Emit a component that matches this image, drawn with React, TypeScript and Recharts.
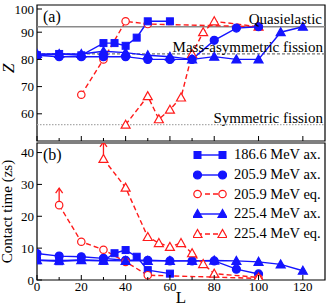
import { LineChart, Line, XAxis, YAxis, ReferenceLine, ReferenceArea, Label, Legend } from 'recharts'

const SERIF = '"Liberation Serif", "DejaVu Serif", serif'
const BLUE = '#1414ff'
const RED = '#ff1a1a'

// L values (angular momentum) and read-off values
const L_186 = [0, 10, 20, 30, 35, 40, 45, 50, 60]
const Z_186 = [81.5, 82, 81.5, 86, 86, 85, 88, 94, 94]
const T_186 = [6.2, 5.9, 6.3, 6.0, 8.4, 9.4, 7.3, 3.1, 2.0]

const L_205ax = [0, 10, 20, 30, 40, 50, 60, 70, 80, 90, 100]
const Z_205ax = [81.5, 81, 81, 81, 81, 80, 80, 80, 87, 91.5, 92]
const T_205ax = [8.3, 7.5, 7.3, 6.8, 6.2, 6.2, 6.0, 6.0, 6.0, 3.4, 1.9]

const L_205eq_Z = [20, 30, 40, 50, 100]
const Z_205eq = [67, 80, 94, 93, 92]
const L_205eq_T = [10, 20, 30, 40, 50, 100]
const T_205eq = [23.5, 12, 9.5, 5.7, 1.5, 0.5]

const L_225ax = [0, 10, 20, 30, 40, 50, 60, 70, 80, 90, 100, 110, 120]
const Z_225ax = [82, 82, 82, 83, 82.5, 81.5, 81, 80, 81, 80, 80, 90, 92]
const T_225ax = [6.2, 6.1, 6.2, 6.1, 6.0, 6.0, 6.0, 6.0, 6.1, 6.0, 5.7, 4.9, 2.9]

const L_225eq_Z = [40, 50, 55, 60, 65, 70, 75, 80, 100]
const Z_225eq = [56, 66.5, 58, 61.5, 66, 82, 90, 94, 92]
const L_225eq_T = [30, 40, 50, 55, 60, 65, 70, 75, 80, 100]
const T_225eq = [38, 29, 13.5, 11.6, 10.4, 11.6, 8.4, 5, 2, 0.8]

// lower bounds only (drawn with an up arrow)
const ARROWS_205eq = [10]
const ARROWS_225eq = [30]

const X_TICKS = [0, 10, 20, 30, 40, 50, 60, 70, 80, 90, 100, 110, 120]
const X_LABELS = [0, 20, 40, 60, 80, 100, 120]
const Z_TICKS = [55, 60, 65, 70, 75, 80, 85, 90, 95, 100]
const Z_LABELS = [60, 70, 80, 90, 100]
const T_TICKS = [0, 5, 10, 15, 20, 25, 30, 35, 40]
const T_LABELS = [0, 10, 20, 30, 40]

const QUASI_Z = 92
const MASSASYM_Z = 82
const SYM_Z = 56

const zip = (ls: number[], vs: number[]) => ls.map((L, i) => ({ L, v: vs[i] }))

type Shape = 'square' | 'circle' | 'triangle'
interface SeriesStyle {
  shape: Shape
  color: string
  filled: boolean
  dashed: boolean
}

const STYLES: Record<string, SeriesStyle> = {
  '186.6 MeV ax.': { shape: 'square', color: BLUE, filled: true, dashed: false },
  '205.9 MeV ax.': { shape: 'circle', color: BLUE, filled: true, dashed: false },
  '205.9 MeV eq.': { shape: 'circle', color: RED, filled: false, dashed: true },
  '225.4 MeV ax.': { shape: 'triangle', color: BLUE, filled: true, dashed: false },
  '225.4 MeV eq.': { shape: 'triangle', color: RED, filled: false, dashed: true },
}

function marker(s: SeriesStyle, cx: number, cy: number) {
  const fill = s.filled ? s.color : '#fff'
  if (s.shape === 'square') {
    return <rect x={cx - 3.5} y={cy - 3.5} width={7} height={7} fill={fill} stroke={s.color} />
  }
  if (s.shape === 'circle') {
    return <circle cx={cx} cy={cy} r={s.filled ? 4 : 3.7} fill={fill} stroke={s.color} strokeWidth={1.2} />
  }
  return (
    <polygon
      points={`${cx},${cy - 4.5} ${cx - 4.5},${cy + 3.5} ${cx + 4.5},${cy + 3.5}`}
      fill={fill}
      stroke={s.color}
      strokeWidth={1.2}
    />
  )
}

const makeDot = (s: SeriesStyle, arrows: number[] = []) => (props: any) => {
  const { cx, cy, payload, index } = props
  if (cx == null || cy == null) return <g key={`e-${index}`} />
  return (
    <g key={`d-${index}`}>
      {arrows.includes(payload.L) && (
        <g stroke={s.color} strokeWidth={1.3} fill="none">
          <line x1={cx} x2={cx} y1={cy - 4} y2={cy - 17} />
          <polyline points={`${cx - 3.5},${cy - 12} ${cx},${cy - 17} ${cx + 3.5},${cy - 12}`} />
        </g>
      )}
      {marker(s, cx, cy)}
    </g>
  )
}

const yTick = (labels: number[]) => (p: any) => {
  const major = labels.includes(p.payload.value)
  return (
    <g>
      <line x1={p.x} x2={p.x + (major ? 5 : 3)} y1={p.y} y2={p.y} stroke="#000" />
      {major && (
        <text x={p.x - 3} y={p.y} dy="0.35em" textAnchor="end" fontSize={13} fontFamily={SERIF} fill="#000">
          {p.payload.value}
        </text>
      )}
    </g>
  )
}

const xTick = (labels: number[]) => (p: any) => {
  const major = [0, 20, 40, 60, 80, 100, 120].includes(p.payload.value)
  return (
    <g>
      <line x1={p.x} x2={p.x} y1={p.y} y2={p.y - (major ? 5 : 3)} stroke="#000" />
      {labels.includes(p.payload.value) && (
        <text x={p.x} y={p.y + 11} textAnchor="middle" fontSize={13} fontFamily={SERIF} fill="#000">
          {p.payload.value}
        </text>
      )}
    </g>
  )
}

const renderLegend = (props: any) => (
  <div style={{ fontFamily: SERIF, fontSize: 14.5, lineHeight: '19.8px', color: '#000' }}>
    {(props.payload || []).map((e: any) => {
      const s = STYLES[e.value]
      return (
        <div key={e.value} style={{ display: 'flex', alignItems: 'center', whiteSpace: 'nowrap' }}>
          <svg width={34} height={12}>
            <line x1={4} x2={30} y1={6} y2={6} stroke={s.color} strokeWidth={1.4} strokeDasharray={s.dashed ? '5 3' : undefined} />
            {marker(s, 4.5, 6)}
            {marker(s, 29.5, 6)}
          </svg>
          <span style={{ marginLeft: 7 }}>{e.value}</span>
        </div>
      )
    })}
  </div>
)

const lineProps = (name: string) => {
  const s = STYLES[name]
  return {
    name,
    dataKey: 'v',
    stroke: s.color,
    strokeWidth: 1.4,
    strokeDasharray: s.dashed ? '5 3' : undefined,
    isAnimationActive: false,
    legendType: 'line' as const,
  }
}

export default function App() {
  return (
    <div style={{ position: 'absolute', left: 0, top: 0, width: 327, height: 307, background: '#fff' }}>
      <div style={{ position: 'absolute', left: 0, top: 0 }}>
        <LineChart width={327} height={145} margin={{ top: 5, right: 2, bottom: 0, left: 0 }}>
          <XAxis
            type="number"
            dataKey="L"
            domain={[0, 130]}
            ticks={X_TICKS}
            height={4}
            axisLine={false}
            tickLine={false}
            tickSize={0}
            tickMargin={0}
            tick={xTick([])}
            allowDataOverflow
          />
          <YAxis
            type="number"
            domain={[50, 100]}
            ticks={Z_TICKS}
            width={37}
            axisLine={false}
            tickLine={false}
            tickSize={0}
            tickMargin={0}
            tick={yTick(Z_LABELS)}
            allowDataOverflow
          >
            <Label
              value="Z"
              angle={-90}
              position="insideLeft"
              offset={8}
              fontSize={17}
              fontStyle="italic"
              fontFamily={SERIF}
              fill="#000"
            />
          </YAxis>
          <ReferenceLine y={QUASI_Z} stroke="#8a8a8a" strokeWidth={1.5}>
            <Label value="Quasielastic" position="insideBottomRight" offset={3} fontSize={15} fontFamily={SERIF} fill="#000" />
          </ReferenceLine>
          <ReferenceLine y={MASSASYM_Z} stroke="#777" strokeWidth={1.3} strokeDasharray="3 2">
            <Label value="Mass-asymmetric fission" position="insideBottomRight" offset={2} fontSize={15} fontFamily={SERIF} fill="#000" />
          </ReferenceLine>
          <ReferenceLine y={SYM_Z} stroke="#aaa" strokeWidth={1.3} strokeDasharray="1.5 1.5">
            <Label value="Symmetric fission" position="insideBottomRight" offset={2} fontSize={15} fontFamily={SERIF} fill="#000" />
          </ReferenceLine>
          <Line {...lineProps('225.4 MeV eq.')} data={zip(L_225eq_Z, Z_225eq)} dot={makeDot(STYLES['225.4 MeV eq.'])} />
          <Line {...lineProps('205.9 MeV eq.')} data={zip(L_205eq_Z, Z_205eq)} dot={makeDot(STYLES['205.9 MeV eq.'])} />
          <Line {...lineProps('186.6 MeV ax.')} data={zip(L_186, Z_186)} dot={makeDot(STYLES['186.6 MeV ax.'])} />
          <Line {...lineProps('205.9 MeV ax.')} data={zip(L_205ax, Z_205ax)} dot={makeDot(STYLES['205.9 MeV ax.'])} />
          <Line {...lineProps('225.4 MeV ax.')} data={zip(L_225ax, Z_225ax)} dot={makeDot(STYLES['225.4 MeV ax.'])} />
          <ReferenceArea x1={0} x2={130} y1={50} y2={100} fill="none" stroke="#000" strokeWidth={1.2}>
            <Label value="(a)" position="insideTopLeft" offset={6} fontSize={16} fontFamily={SERIF} fill="#000" />
          </ReferenceArea>
        </LineChart>
      </div>
      <div style={{ position: 'absolute', left: 0, top: 141 }}>
        <LineChart width={327} height={166} margin={{ top: 2, right: 2, bottom: 0, left: 0 }}>
          <XAxis
            type="number"
            dataKey="L"
            domain={[0, 130]}
            ticks={X_TICKS}
            height={27}
            axisLine={false}
            tickLine={false}
            tickSize={0}
            tickMargin={0}
            tick={xTick(X_LABELS)}
            allowDataOverflow
          >
            <Label value="L" position="insideBottom" offset={4} fontSize={17} fontFamily={SERIF} fill="#000" />
          </XAxis>
          <YAxis
            type="number"
            domain={[0, 43]}
            ticks={T_TICKS}
            width={37}
            axisLine={false}
            tickLine={false}
            tickSize={0}
            tickMargin={0}
            tick={yTick(T_LABELS)}
            allowDataOverflow
          >
            <Label
              value="Contact time (zs)"
              angle={-90}
              position="insideLeft"
              offset={7}
              fontSize={15}
              fontFamily={SERIF}
              fill="#000"
              style={{ textAnchor: 'middle' }}
            />
          </YAxis>
          <Legend
            content={renderLegend}
            layout="horizontal"
            align="center"
            verticalAlign="middle"
            wrapperStyle={{ position: 'absolute', left: 193, top: 4, width: 'auto', height: 'auto' }}
          />
          <Line {...lineProps('186.6 MeV ax.')} data={zip(L_186, T_186)} dot={makeDot(STYLES['186.6 MeV ax.'])} />
          <Line {...lineProps('205.9 MeV ax.')} data={zip(L_205ax, T_205ax)} dot={makeDot(STYLES['205.9 MeV ax.'])} />
          <Line {...lineProps('205.9 MeV eq.')} data={zip(L_205eq_T, T_205eq)} dot={makeDot(STYLES['205.9 MeV eq.'], ARROWS_205eq)} />
          <Line {...lineProps('225.4 MeV ax.')} data={zip(L_225ax, T_225ax)} dot={makeDot(STYLES['225.4 MeV ax.'])} />
          <Line {...lineProps('225.4 MeV eq.')} data={zip(L_225eq_T, T_225eq)} dot={makeDot(STYLES['225.4 MeV eq.'], ARROWS_225eq)} />
          <ReferenceArea x1={0} x2={130} y1={0} y2={43} fill="none" stroke="#000" strokeWidth={1.2}>
            <Label value="(b)" position="insideTopLeft" offset={6} fontSize={16} fontFamily={SERIF} fill="#000" />
          </ReferenceArea>
        </LineChart>
      </div>
    </div>
  )
}
